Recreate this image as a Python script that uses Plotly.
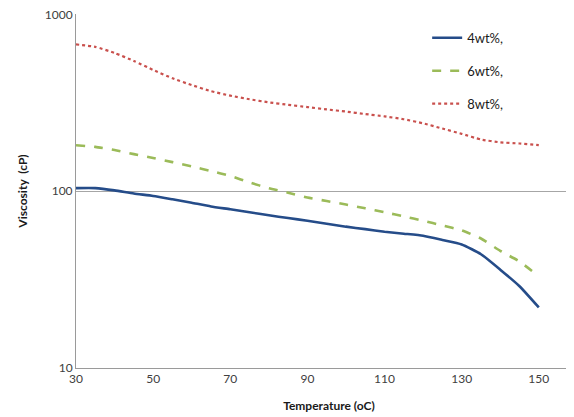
import plotly.graph_objects as go

temperature = [30, 35, 40, 45, 50, 55, 60, 65, 70, 75, 80, 85, 90, 95, 100,
               105, 110, 115, 120, 125, 130, 135, 140, 145, 150]
visc_4wt = [104, 104, 101, 97, 94, 90, 86, 82, 79, 76, 73, 70.5, 68, 65.5, 63,
            61, 59, 57.5, 56, 53, 50, 44, 36, 29, 22]
visc_6wt = [182, 178, 171, 162, 154, 146, 138, 130, 122, 112, 104, 98, 92, 88, 84,
            80, 76, 72, 68, 64, 60, 54, 46, 40, 33]
visc_8wt = [676, 655, 605, 545, 485, 435, 398, 368, 347, 331, 318, 308, 299, 290, 282,
            273, 265, 255, 242, 226, 211, 196, 189, 186, 182]
series_names = ["4wt%,", "6wt%,", "8wt%,"]
x_ticks = [30, 50, 70, 90, 110, 130, 150]
y_ticks = [10, 100, 1000]

fig = go.Figure()
styles = [
    dict(color="#254C89", width=2.6, dash="solid"),
    dict(color="#9BBB59", width=2.6, dash="dash"),
    dict(color="#C9504D", width=2.2, dash="dot"),
]
for name, vals, st, g in zip(series_names, [visc_4wt, visc_6wt, visc_8wt], styles, ["a", "b", "c"]):
    fig.add_trace(go.Scatter(x=temperature, y=vals, mode="lines", name=name,
                             line=dict(shape="spline", smoothing=0.5, **st),
                             legendgroup=g))

font_family = "Lato, Carlito, 'Liberation Sans', sans-serif"
fig.update_layout(
    width=574, height=417,
    margin=dict(l=68, r=0, t=6, b=57),
    paper_bgcolor="white", plot_bgcolor="white",
    font=dict(family=font_family, size=12, color="#404040"),
    showlegend=True,
    legend=dict(x=0.694, y=0.975, xanchor="left", yanchor="top",
                bgcolor="rgba(0,0,0,0)", tracegroupgap=13,
                font=dict(size=13, color="#1a1a1a")),
    xaxis=dict(range=[30, 161.2], tickvals=x_ticks, showgrid=False,
               showline=True, linecolor="#9a9a9a", linewidth=1,
               ticks="", zeroline=False,
               tickfont=dict(size=12, color="#404040"),
               title=dict(text="<b>Temperature (oC)</b>", standoff=16,
                          font=dict(size=12, color="#1a1a1a"))),
    yaxis=dict(type="log", range=[1, 3.002], tickvals=y_ticks,
               ticktext=[str(v) for v in y_ticks],
               showgrid=True, gridcolor="#a6a6a6", gridwidth=1,
               showline=True, linecolor="#9a9a9a", linewidth=1,
               mirror=False, ticks="", zeroline=False, automargin=False,
               ticklabeloverflow="allow",
               tickfont=dict(size=12, color="#404040"),
               title=dict(text="<b>Viscosity  (cP)</b>", standoff=14,
                          font=dict(size=12, color="#1a1a1a"))),
)

fig.write_html("out.html")
